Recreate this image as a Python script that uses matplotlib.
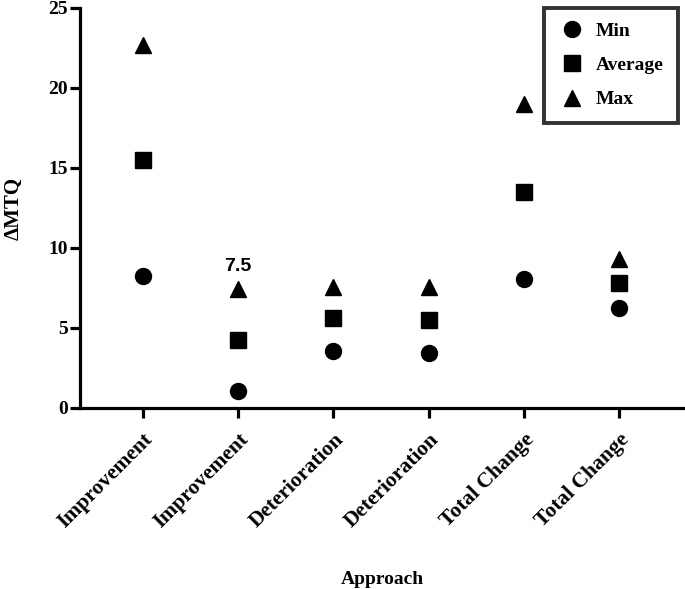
import matplotlib.pyplot as plt

# data
categories = ["Improvement", "Improvement", "Deterioration", "Deterioration",
              "Total Change", "Total Change"]
min_vals = [8.25, 1.05, 3.55, 3.45, 8.05, 6.25]
avg_vals = [15.5, 4.25, 5.6, 5.5, 13.5, 7.8]
max_vals = [22.7, 7.45, 7.55, 7.55, 19.0, 9.3]
yticks = [0, 5, 10, 15, 20, 25]

serif = "Liberation Serif"

fig = plt.figure(figsize=(6.85, 5.89), dpi=100)
ax = fig.add_axes([80 / 685, 181 / 589, 605 / 685, 400 / 589])

x = list(range(len(categories)))
ax.plot(x, min_vals, "o", color="black", ms=11.5, label="Min", clip_on=False)
ax.plot(x, avg_vals, "s", color="black", ms=11, label="Average", clip_on=False)
ax.plot(x, max_vals, "^", color="black", ms=11.5, label="Max", clip_on=False)

# value label above the second max point
ax.annotate("7.5", (x[1], max_vals[1]), xytext=(0, 10), textcoords="offset points",
            ha="center", va="bottom", fontsize=14, fontweight="bold",
            family="Liberation Sans")

ax.set_xlim(-0.66, 5.69)
ax.set_ylim(0, 25)
ax.set_yticks(yticks)
ax.set_xticks(x)
ax.set_xticklabels(categories, rotation=45, ha="right", rotation_mode="anchor",
                   fontsize=15.5, fontweight="bold", family=serif)
for lab in ax.get_yticklabels():
    lab.set_fontsize(14)
    lab.set_fontweight("bold")
    lab.set_family(serif)

ax.spines["top"].set_visible(False)
ax.spines["right"].set_visible(False)
for s in ["left", "bottom"]:
    ax.spines[s].set_linewidth(2.3)
ax.tick_params(width=2.3, length=7.5, pad=1)
ax.tick_params(axis="x", pad=8)

ax.set_xlabel("Approach", fontsize=14, fontweight="bold", family=serif, labelpad=28)
ax.set_ylabel("ΔMTQ", fontsize=15, fontweight="bold", family=serif, labelpad=18)

leg = ax.legend(loc="upper right", bbox_to_anchor=(0.995, 1.01), frameon=True,
                fancybox=False, edgecolor="black", borderpad=0.75, labelspacing=0.85,
                handletextpad=0.5, handlelength=1.4, borderaxespad=0.2,
                prop={"family": serif, "weight": "bold", "size": 14})
leg.get_frame().set_linewidth(2.8)

fig.savefig("out.png", dpi=100)
